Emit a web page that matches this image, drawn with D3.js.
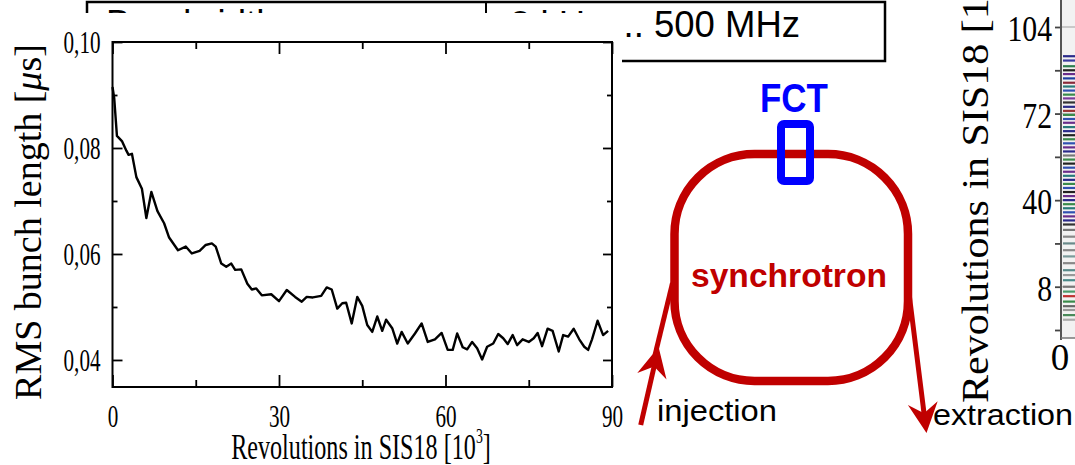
<!DOCTYPE html>
<html><head><meta charset="utf-8">
<script src="https://cdn.jsdelivr.net/npm/d3@7"></script>
<style>html,body{margin:0;padding:0;background:#fff;overflow:hidden}</style>
</head><body>
<svg id="c" width="1075" height="465"></svg>
<script>
// ---- Data: RMS bunch length vs revolutions (x in 10^3 revolutions, y in µs)
const revolutions = [0,0.3,0.8,1.7,2.5,2.9,3.5,4.3,5.3,6.1,7.0,8.1,9.3,10.2,11.8,13.2,14.3,15.7,16.8,17.9,
  18.6,19.6,20.5,21.4,22.1,23.2,24.3,25.1,25.9,26.9,28.6,30.0,31.4,32.9,34.1,35.0,36.1,37.6,38.6,39.5,
  40.5,41.4,42.1,43.1,44.1,45.0,45.9,46.8,47.7,48.6,49.3,50.4,51.3,52.1,53.2,54.5,55.7,56.8,58.1,59.3,
  60.4,61.3,62.1,63.1,63.9,64.8,65.7,66.6,67.5,68.6,69.5,70.4,71.2,72.1,72.9,73.9,75.0,75.9,76.6,77.4,
  78.4,79.3,80.4,81.2,82.1,83.1,84.1,85.0,85.7,86.4,87.4,88.4,89.3];
const rmsLength = [0.0915,0.0895,0.0823,0.0813,0.0795,0.0787,0.0789,0.0745,0.0723,0.0668,0.0717,0.0681,0.0658,0.0631,0.0607,0.0614,0.0601,0.0606,0.0617,0.0620,
  0.0614,0.0582,0.0576,0.0582,0.0570,0.0571,0.0544,0.0533,0.0535,0.0522,0.0524,0.0511,0.0532,0.0519,0.0510,0.0519,0.0518,0.0521,0.0537,0.0533,
  0.0497,0.0507,0.0508,0.0469,0.0519,0.0502,0.0466,0.0453,0.0482,0.0455,0.0476,0.0460,0.0431,0.0453,0.0431,0.0450,0.0469,0.0434,0.0439,0.0451,
  0.0419,0.0419,0.0450,0.0424,0.0420,0.0434,0.0422,0.0401,0.0425,0.0431,0.0449,0.0441,0.0430,0.0447,0.0428,0.0439,0.0434,0.0441,0.0451,0.0426,
  0.0459,0.0455,0.0416,0.0447,0.0444,0.0459,0.0439,0.0425,0.0419,0.0439,0.0474,0.0447,0.0455];
const xMajorTicks = [0,30,60,90];
const xMinorTicks = [15,45,75];
const yMajorTicks = [0.04,0.06,0.08,0.10];
const yMinorTicks = [0.05,0.07,0.09];

// ---- Right (partly visible) waterfall chart
const waterTicks = [104,72,40,8];
const waterMinorTicks = [88,56,24,-8];
const waterLevels = [93.2,91.6,89.5,88.0,86.6,85.0,83.4,82.0,80.5,79.0,77.6,76.1,74.5,73.0,71.5,70.0,68.6,67.0,65.5,64.0,
  62.5,61.0,59.5,58.0,56.5,55.0,53.5,52.0,50.5,49.0,47.5,46.0,44.5,43.0,41.5,40.0,38.5,37.0,35.5,34.0,32.5,31.0,
  29.0,26.5,24.0,21.5,19.2,16.7,14.1,12.3,10.4,8.0,6.2,4.5,2.5,0.8,-0.6,-2.5,-4.2];
const waterColors = ["#2a2a8a","#3a3aa0","#2e7d4f","#222","#6a2d8a","#1f3f9f","#8a2a3a","#2a7a7a","#3050b0","#3a8a4a",
  "#7a3a9a","#333","#2a2a8a","#993333","#3a8a4a","#3050b0","#6a2d8a","#2a7a7a","#2a2a8a","#222",
  "#3a8a4a","#3050b0","#6a2d8a","#2a2a8a","#777","#3a8a4a","#222","#3050b0","#6a2d8a","#2a7a7a",
  "#2a2a8a","#3a8a4a","#3050b0","#222","#6a2d8a","#2a2a8a","#3a8a4a","#2a7a7a","#3050b0","#6a2d8a","#2a2a8a","#333",
  "#777","#888","#6a8a8a","#888","#7a9a9a","#888","#5a8a8a","#999","#4a8a8a","#777","#4a9a6a","#c03030","#3a8a4a","#666","#999","#4a8a5a","#aaa"];

const svg = d3.select("#c");
const serif = "'Liberation Serif','Times New Roman',serif";
const sans = "'Liberation Sans',Arial,sans-serif";
const RED = "#c00000", BLUE = "#0000ff";

// ---- background table (mostly hidden)
svg.append("rect").attr("x",87).attr("y",2).attr("width",798).attr("height",59)
  .attr("fill","#fff").attr("stroke","#000").attr("stroke-width",2.5);
svg.append("line").attr("x1",486).attr("x2",486).attr("y1",2).attr("y2",61).attr("stroke","#000").attr("stroke-width",2);
svg.append("text").attr("x",106).attr("y",36).attr("font-family",sans).attr("font-size",36.5).text("Bandwidth");
svg.append("text").attr("x",510).attr("y",37).attr("font-family",sans).attr("font-size",36.5).text("2 kHz ... 500 MHz");

// white panel of the left chart covering the table
svg.append("rect").attr("x",0).attr("y",13).attr("width",622).attr("height",452).attr("fill","#fff");

// ---- Left chart
const x = d3.scaleLinear().domain([0,90]).range([112.5,612]);
const y = d3.scaleLinear().domain([0.0349,0.10]).range([387,42]);
const g = svg.append("g");
const SX = 0.66;
const fmt = d => d3.format(".2f")(d).replace(".", ",");

function styleAxis(sel){ sel.select(".domain").remove(); sel.selectAll("line").attr("stroke","#000").attr("stroke-width",1.8); }

g.append("g").attr("transform","translate(0,387)")
  .call(d3.axisBottom(x).tickValues(xMajorTicks).tickSizeInner(-12).tickSizeOuter(0).tickPadding(17).tickFormat(d3.format("d")))
  .call(styleAxis)
  .call(s => s.selectAll("text").attr("font-family",serif).attr("font-size",32).attr("fill","#000")
      .attr("transform",`scale(${SX},1)`));
g.append("g").attr("transform","translate(0,387)")
  .call(d3.axisBottom(x).tickValues(xMinorTicks).tickSizeInner(-7).tickSizeOuter(0).tickFormat(""))
  .call(styleAxis);
g.append("g").attr("transform","translate(0,42)")
  .call(d3.axisTop(x).tickValues(xMajorTicks).tickSizeInner(-12).tickSizeOuter(0).tickFormat(""))
  .call(styleAxis);
g.append("g").attr("transform","translate(0,42)")
  .call(d3.axisTop(x).tickValues(xMinorTicks).tickSizeInner(-7).tickSizeOuter(0).tickFormat(""))
  .call(styleAxis);
g.append("g").attr("transform","translate(112.5,0)")
  .call(d3.axisLeft(y).tickValues(yMajorTicks).tickSizeInner(-10).tickSizeOuter(0).tickPadding(12).tickFormat(fmt))
  .call(styleAxis)
  .call(s => s.selectAll("text").attr("font-family",serif).attr("font-size",32).attr("fill","#000")
      .attr("x",-12/SX).attr("transform",`scale(${SX},1)`));
g.append("g").attr("transform","translate(112.5,0)")
  .call(d3.axisLeft(y).tickValues(yMinorTicks).tickSizeInner(-5).tickSizeOuter(0).tickFormat(""))
  .call(styleAxis);
g.append("g").attr("transform","translate(612,0)")
  .call(d3.axisRight(y).tickValues(yMajorTicks).tickSizeInner(-9).tickSizeOuter(0).tickFormat(""))
  .call(styleAxis);
g.append("g").attr("transform","translate(612,0)")
  .call(d3.axisRight(y).tickValues(yMinorTicks).tickSizeInner(-5).tickSizeOuter(0).tickFormat(""))
  .call(styleAxis);

g.append("rect").attr("x",x(0)).attr("y",y(0.10)).attr("width",x(90)-x(0)).attr("height",y(0.0349)-y(0.10))
  .attr("fill","none").attr("stroke","#000").attr("stroke-width",2);

const series = revolutions.map((r,i)=>[r,rmsLength[i]]);
g.append("path").datum(series)
  .attr("d", d3.line().x(d=>x(d[0])).y(d=>y(d[1])))
  .attr("fill","none").attr("stroke","#000").attr("stroke-width",2.4).attr("stroke-linejoin","round");

// axis titles
const xt = g.append("text").attr("transform",`translate(361,459) scale(0.69,1)`)
  .attr("text-anchor","middle").attr("font-family",serif).attr("font-size",35).attr("fill","#000");
xt.append("tspan").text("Revolutions in SIS18 [10");
xt.append("tspan").attr("font-size",20).attr("dy",-16).text("3");
xt.append("tspan").attr("dy",16).text("]");

const yt = g.append("text").attr("transform","translate(41,222) rotate(-90)")
  .attr("text-anchor","middle").attr("font-family",serif).attr("font-size",38).attr("fill","#000");
yt.append("tspan").text("RMS bunch length [");
yt.append("tspan").attr("font-style","italic").text("μ");
yt.append("tspan").text("s]");

// ---- synchrotron diagram
const d = svg.append("g");
d.append("rect").attr("x",674.5).attr("y",154).attr("width",233.5).attr("height",227).attr("rx",80).attr("ry",80)
  .attr("fill","none").attr("stroke",RED).attr("stroke-width",8.5);
function arrow(x1,y1,x2,y2){
  const dx=x2-x1, dy=y2-y1, L=Math.hypot(dx,dy), ux=dx/L, uy=dy/L, nx=-uy, ny=ux;
  d.append("line").attr("x1",x1).attr("y1",y1).attr("x2",x2-ux*18).attr("y2",y2-uy*18)
    .attr("stroke",RED).attr("stroke-width",5);
  const bx=x2-ux*30, by=y2-uy*30, mx=x2-ux*20, my=y2-uy*20;
  d.append("path").attr("d",`M${x2},${y2}L${bx+nx*15},${by+ny*15}L${mx},${my}L${bx-nx*15},${by-ny*15}Z`).attr("fill",RED);
}
d.append("line").attr("x1",655).attr("y1",355).attr("x2",672.5).attr("y2",283).attr("stroke",RED).attr("stroke-width",5);
arrow(640.7,425,658.6,347);
arrow(909,293,926.5,433);

d.append("rect").attr("x",781).attr("y",124).attr("width",29).attr("height",57).attr("rx",3)
  .attr("fill","none").attr("stroke",BLUE).attr("stroke-width",8);
d.append("text").attr("x",760).attr("y",112).attr("textLength",68).attr("lengthAdjust","spacingAndGlyphs")
  .attr("font-family",sans).attr("font-weight","bold").attr("font-size",40).attr("fill",BLUE).text("FCT");
d.append("text").attr("x",691).attr("y",287).attr("textLength",196).attr("lengthAdjust","spacingAndGlyphs")
  .attr("font-family",sans).attr("font-weight","bold").attr("font-size",33).attr("fill",RED).text("synchrotron");
d.append("text").attr("x",657).attr("y",421).attr("textLength",120).attr("lengthAdjust","spacingAndGlyphs")
  .attr("font-family",sans).attr("font-size",29).attr("fill","#000").text("injection");

// ---- right waterfall chart (cut off)
const y2 = d3.scaleLinear().domain([-8,104]).range([330,27]);
const r = svg.append("g");
r.append("rect").attr("x",1061).attr("y",0).attr("width",20).attr("height",338).attr("fill","#f2f2f2");
r.selectAll(".grid").data(waterTicks).join("line").attr("x1",1061).attr("x2",1075)
  .attr("y1",v=>y2(v)).attr("y2",v=>y2(v)).attr("stroke","#bbb").attr("stroke-width",1.5);
r.selectAll(".tr").data(waterLevels).join("line").attr("x1",1063).attr("x2",1075)
  .attr("y1",v=>y2(v)).attr("y2",v=>y2(v)).attr("stroke",(v,i)=>waterColors[i]).attr("stroke-width",2.2);
r.append("g").attr("transform","translate(1061,0)")
  .call(d3.axisLeft(y2).tickValues(waterTicks.concat(waterMinorTicks)).tickSizeInner(6).tickSizeOuter(0).tickFormat(""))
  .call(s=>{s.select(".domain").remove(); s.selectAll("line").attr("stroke","#444").attr("stroke-width",1.8);});
r.append("line").attr("x1",1061).attr("x2",1061).attr("y1",0).attr("y2",340).attr("stroke","#555").attr("stroke-width",2);
r.append("line").attr("x1",1061).attr("x2",1075).attr("y1",338).attr("y2",338).attr("stroke","#777").attr("stroke-width",1.5);
r.selectAll(".lab").data(waterTicks).join("text")
  .attr("transform",v=>`translate(1052,${y2(v)+14}) scale(0.85,1)`)
  .attr("text-anchor","end").attr("font-family",serif).attr("font-size",35).attr("fill","#000").text(v=>v);
r.append("text").attr("x",1060).attr("y",370).attr("text-anchor","middle").attr("font-family",serif)
  .attr("font-size",37).attr("fill","#000").text("0");
const rt = r.append("text").attr("transform","translate(988,403) scale(0.9,1) rotate(-90)")
  .attr("font-family",serif).attr("font-size",42).attr("fill","#000");
rt.append("tspan").text("Revolutions in SIS18 [10");
rt.append("tspan").attr("font-size",24).attr("dy",-18).text("3");
rt.append("tspan").attr("dy",18).text("]");

d.append("text").attr("x",933).attr("y",425).attr("textLength",140).attr("lengthAdjust","spacingAndGlyphs")
  .attr("font-family",sans).attr("font-size",29).attr("fill","#000").text("extraction");
</script>
</body></html>
